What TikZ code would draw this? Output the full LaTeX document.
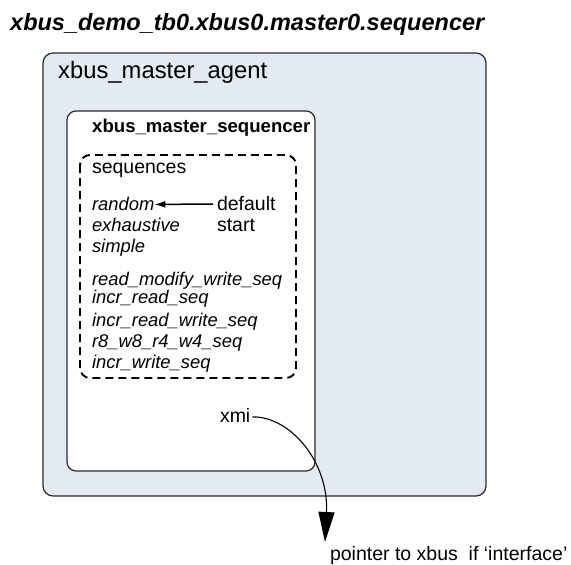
\documentclass[tikz,border=0pt]{standalone}
\usepackage{fontspec}
\setmainfont{Liberation Sans}
\usetikzlibrary{arrows.meta}
\definecolor{agentfill}{HTML}{E4EAF2}
\definecolor{edge}{HTML}{2A2A2A}
\tikzset{
  txt/.style={anchor=base west, inner sep=0pt, outer sep=0pt, font=\fontsize{19.5}{22}\selectfont},
  itxt/.style={txt, font=\fontsize{18.4}{22}\selectfont\itshape},
  boxline/.style={draw=edge, line width=1.2pt},
}
\begin{document}
\begin{tikzpicture}[x=1pt,y=-1pt]
\useasboundingbox (0,0) rectangle (571,565);
% outer agent box
\draw[boxline, fill=agentfill, rounded corners=10pt] (43,53) rectangle (486,496);
% sequencer box
\draw[boxline, fill=white, rounded corners=9pt] (67,111) rectangle (315,471);
% dashed sequences box
\draw[draw=black, line width=1.9pt, dash pattern=on 8pt off 5pt, rounded corners=10pt] (80,155) rectangle (296,378);

\node[anchor=base west, inner sep=0pt, font=\fontsize{23.5}{26}\selectfont\bfseries\itshape] (title) at (10,30) {xbus\_demo\_tb0.xbus0.master0.sequencer};
\node[anchor=base west, inner sep=0pt, font=\fontsize{23.8}{26}\selectfont] (agent) at (58,78) {xbus\_master\_agent};
\node[anchor=base west, inner sep=0pt, font=\fontsize{18.6}{22}\selectfont\bfseries] (seqr) at (92,132) {xbus\_master\_sequencer};
\node[txt] (seqs) at (92,173) {sequences};
\node[itxt] (random) at (92,210) {random};
\node[itxt] (exh) at (92,231) {exhaustive};
\node[itxt] (simple) at (92,252) {simple};
\node[itxt] (rmw) at (92,285) {read\_modify\_write\_seq};
\node[itxt] (ir) at (92,303) {incr\_read\_seq};
\node[itxt] (irw) at (92,326) {incr\_read\_write\_seq};
\node[itxt] (r8) at (92,347) {r8\_w8\_r4\_w4\_seq};
\node[itxt] (iw) at (92,368) {incr\_write\_seq};
\node[txt] (default) at (217,210) {default};
\node[txt] (start) at (217,231) {start};
\node[txt] (xmi) at (220,422) {xmi};
\node[txt] (ptrtext) at (330,560) {pointer to xbus\ \ if ‘interface’};
\coordinate (ptr) at (325,542);

\draw[line width=1.5pt, -{Latex[length=11pt,width=7pt]}] ([xshift=-4pt,yshift=-1pt]default.west) -- ([yshift=-1pt]random.east);
\draw[line width=1.1pt, -{Triangle[width=16pt,length=30pt]}] ([xshift=2pt,yshift=-2pt]xmi.east) .. controls (290,416) and (329,462) .. (ptr);
\end{tikzpicture}
\end{document}
